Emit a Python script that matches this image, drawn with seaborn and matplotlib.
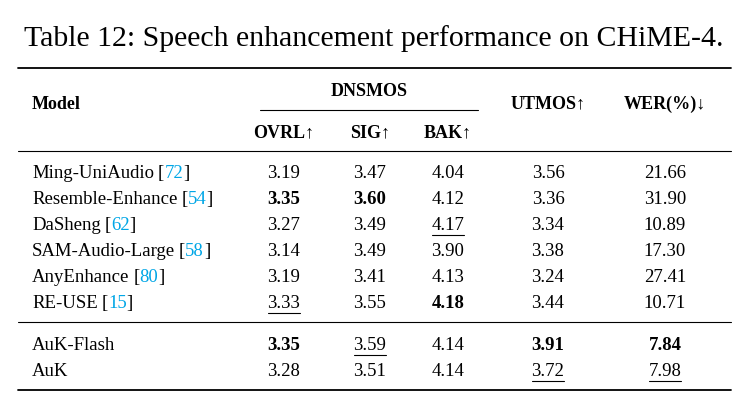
import matplotlib
matplotlib.use("Agg")
import matplotlib.pyplot as plt
import seaborn as sns

sns.set_theme(style="white")
plt.rcParams['font.family'] = ['Liberation Serif', 'DejaVu Serif']
plt.rcParams['text.color'] = 'black'

models = ["Ming-UniAudio", "Resemble-Enhance", "DaSheng", "SAM-Audio-Large",
          "AnyEnhance", "RE-USE", "AuK-Flash", "AuK"]
cites = ["72", "54", "62", "58", "80", "15", None, None]
ovrl = ["3.19", "3.35", "3.27", "3.14", "3.19", "3.33", "3.35", "3.28"]
sig = ["3.47", "3.60", "3.49", "3.49", "3.41", "3.55", "3.59", "3.51"]
bak = ["4.04", "4.12", "4.17", "3.90", "4.13", "4.18", "4.14", "4.14"]
utmos = ["3.56", "3.36", "3.34", "3.38", "3.24", "3.44", "3.91", "3.72"]
wer = ["21.66", "31.90", "10.89", "17.30", "27.41", "10.71", "7.84", "7.98"]
# style marks: (row, col) -> 'b' bold or 'u' underline
styles = {(1, 0): 'b', (1, 1): 'b', (2, 2): 'u', (5, 0): 'u', (5, 2): 'b',
          (6, 0): 'b', (6, 1): 'u', (6, 3): 'b', (6, 4): 'b',
          (7, 3): 'u', (7, 4): 'u'}

W, H = 747, 411
fig = plt.figure(figsize=(W / 100, H / 100), dpi=100)
ax = fig.add_axes([0, 0, 1, 1])
ax.set_xlim(0, W)
ax.set_ylim(H, 0)
ax.axis("off")
fig.canvas.draw()
renderer = fig.canvas.get_renderer()

FS = 13.5
CYAN = "#00A6E6"


def width_px(t):
    return t.get_window_extent(renderer).width


ax.text(W / 2, 39, "Table 12: Speech enhancement performance on CHiME-4.",
        ha="center", va="center", fontsize=21.5)

x0, x1 = 18, 731
ax.plot([x0, x1], [68, 68], color="black", lw=1.3)
ax.plot([x0, x1], [151, 151], color="black", lw=0.8)
ax.plot([x0, x1], [322, 322], color="black", lw=0.8)
ax.plot([x0, x1], [390, 390], color="black", lw=1.3)
ax.plot([260, 478], [110, 110], color="black", lw=0.8)

ax.text(32, 104, "Model", fontsize=FS - 0.5, weight="bold", va="center")
ax.text(369, 92, "DNSMOS", fontsize=FS - 0.5, weight="bold", va="center", ha="center")
col_x = [284, 370, 448, 548, 665]
heads = ["OVRL↑", "SIG↑", "BAK↑"]
for x, h in zip(col_x[:3], heads):
    ax.text(x, 133, h, fontsize=FS - 0.5, weight="bold", va="center", ha="center")
ax.text(col_x[3], 104, "UTMOS↑", fontsize=FS - 0.5, weight="bold", va="center", ha="center")
ax.text(col_x[4], 104, "WER(%)↓", fontsize=FS - 0.5, weight="bold", va="center", ha="center")

row_y = [173, 199, 225, 251, 277, 303, 345, 371]
cols = [ovrl, sig, bak, utmos, wer]
for i, y in enumerate(row_y):
    t = ax.text(32, y, models[i], fontsize=FS, va="center")
    if cites[i]:
        x = 32 + width_px(t) + 4
        for piece, c in [("[", "black"), (cites[i], CYAN), ("]", "black")]:
            tt = ax.text(x, y, piece, fontsize=FS, va="center", color=c)
            x += width_px(tt)
    for j, col in enumerate(cols):
        st = styles.get((i, j))
        t = ax.text(col_x[j], y, col[i], fontsize=FS, va="center", ha="center",
                    weight="bold" if st == 'b' else "normal")
        if st == 'u':
            w = width_px(t)
            ax.plot([col_x[j] - w / 2, col_x[j] + w / 2], [y + 10, y + 10],
                    color="black", lw=0.8)

fig.savefig("out.png", dpi=100)
